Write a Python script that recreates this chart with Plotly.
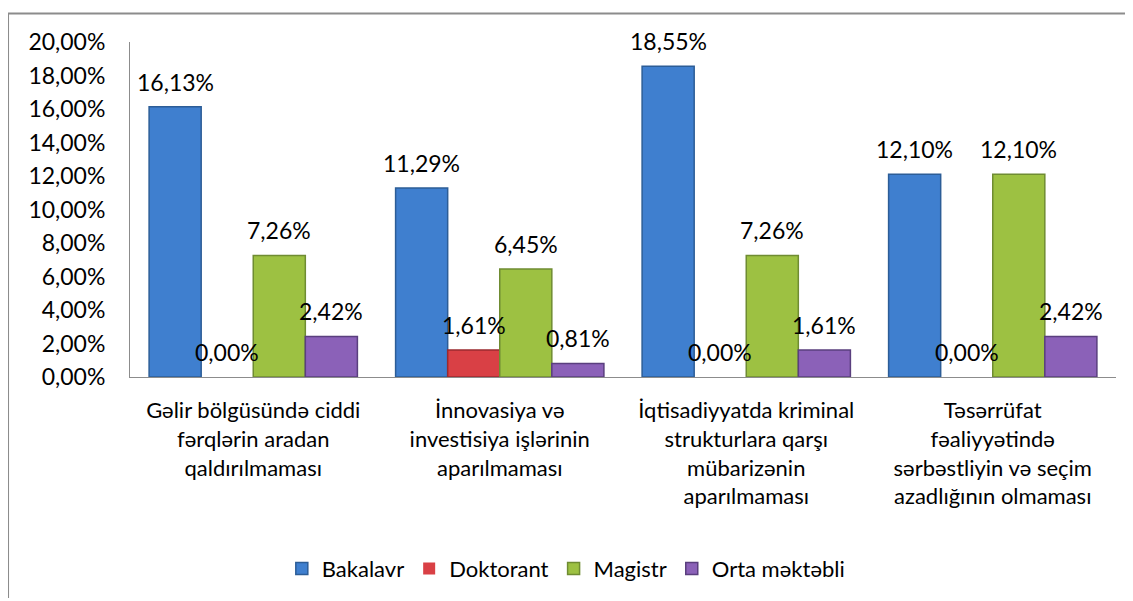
import plotly.graph_objects as go

categories = [
    "Gəlir bölgüsündə ciddi<br>fərqlərin aradan<br>qaldırılmaması",
    "İnnovasiya və<br>investisiya işlərinin<br>aparılmaması",
    "İqtisadiyyatda kriminal<br>strukturlara qarşı<br>mübarizənin<br>aparılmaması",
    "Təsərrüfat<br>fəaliyyətində<br>sərbəstliyin və seçim<br>azadlığının olmaması",
]
bakalavr = [0.1613, 0.1129, 0.1855, 0.1210]
doktorant = [0.0, 0.0161, 0.0, 0.0]
magistr = [0.0726, 0.0645, 0.0726, 0.1210]
orta = [0.0242, 0.0081, 0.0161, 0.0242]

SERIES = [
    ("Bakalavr", bakalavr, "#3f7fcf", "#2c5d97"),
    ("Doktorant", doktorant, "#d94045", "#9a2a2f"),
    ("Magistr", magistr, "#9dc142", "#6f8c32"),
    ("Orta məktəbli", orta, "#8b61b8", "#5a3f7e"),
]

FONT = "Lato, Carlito, Calibri, sans-serif"
# page body has an 8px margin, so the figure is a little smaller than the window
W, H = 1125, 593
MARGIN = dict(l=122, r=17, t=34, b=219)
BARGAP = 0.155

fig = go.Figure()
for name, vals, color, edge in SERIES:
    # no outline on zero-height bars, otherwise a thin coloured stub shows on the axis
    fig.add_trace(go.Bar(
        x=categories, y=vals, name=name,
        marker=dict(color=color, line=dict(color=edge, width=[1.5 if v > 0 else 0 for v in vals])),
    ))

# value labels sit a bit higher above the bars than plotly's own bar text
plot_w = W - MARGIN["l"] - MARGIN["r"]
bar_w = plot_w / len(categories) * (1 - BARGAP) / len(SERIES)
for i, (name, vals, color, edge) in enumerate(SERIES):
    shift = (i - (len(SERIES) - 1) / 2) * bar_w
    for cat, v in zip(categories, vals):
        fig.add_annotation(x=cat, y=v, text=f"{v * 100:.2f}%".replace(".", ","),
                           showarrow=False, xshift=shift, yshift=9, yanchor="bottom",
                           font=dict(size=23, color="#000000"))

# border of the chart area (top and left edges visible in the picture)
border = dict(type="line", xref="paper", yref="paper", line=dict(color="#8c8c8c", width=2))
fig.add_shape(**border, x0=-0.1237, x1=1.03, y0=1.0853, y1=1.0853)
fig.add_shape(**border, x0=-0.1237, x1=-0.1237, y0=1.0853, y1=-0.66)

fig.update_layout(
    width=W, height=H,
    margin=MARGIN,
    paper_bgcolor="white", plot_bgcolor="white",
    barmode="group", bargap=BARGAP, bargroupgap=0,
    separators=", ",
    font=dict(family=FONT, size=22, color="#000000"),
    showlegend=True,
    legend=dict(orientation="h", xanchor="center", x=0.442, yanchor="middle", y=-0.572,
                font=dict(size=22), itemwidth=30, tracegroupgap=0),
)
fig.update_yaxes(range=[0, 0.2], dtick=0.02, tickformat=".2%", showgrid=False,
                 showline=True, linecolor="#8c8c8c", linewidth=1, ticks="",
                 ticklabelstandoff=19, zeroline=False, tickfont=dict(size=23),
                 automargin=False)
fig.update_xaxes(showline=True, linecolor="#8c8c8c", linewidth=1, ticks="",
                 ticklabelstandoff=14, tickfont=dict(size=22), tickangle=0,
                 automargin=False)

fig.write_html("out.html")
